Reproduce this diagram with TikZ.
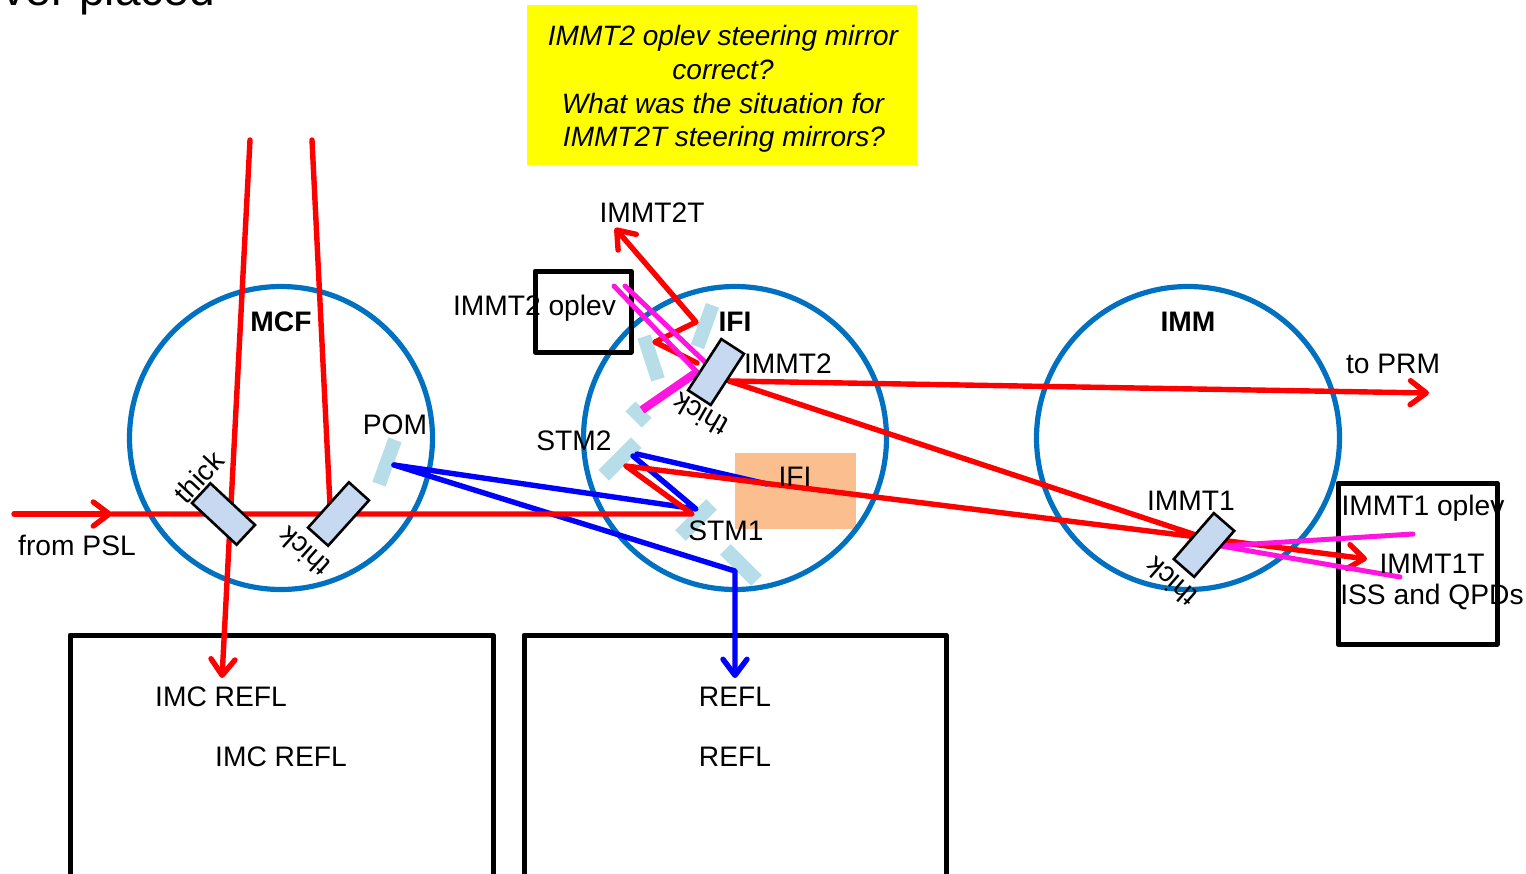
\documentclass[tikz,border=0pt]{standalone}
\usepackage{fontspec}
\setmainfont{Liberation Sans}
\usetikzlibrary{arrows.meta}
\definecolor{ringblue}{HTML}{0070C0}
\definecolor{mirrorblue}{HTML}{B7DDE8}
\definecolor{opticblue}{HTML}{C6D9F1}
\definecolor{ifiorange}{HTML}{FBBF8F}
\definecolor{noteyellow}{HTML}{FFFF00}
\definecolor{beamred}{HTML}{FF0000}
\definecolor{beamblue}{HTML}{0000FF}
\definecolor{beammag}{HTML}{FF14E0}
\tikzset{
  x=0.5pt,y=-0.5pt,
  every node/.style={font=\fontsize{14.1}{16}\selectfont,inner sep=0pt,outer sep=0pt,text=black},
  ring/.style={draw=ringblue,line width=2.6pt,circle,minimum size=151.5pt},
  mirrorbar/.style={fill=mirrorblue,draw=none,rectangle},
  optic/.style={fill=opticblue,draw=black,line width=1.3pt,rectangle,minimum width=30.5pt,minimum height=13.5pt},
  labelbox/.style={draw=black,line width=2.5pt,line join=round},
  redbeam/.style={draw=beamred,line width=2.7pt,line cap=round,line join=round},
  bluebeam/.style={draw=beamblue,line width=2.7pt,line cap=round,line join=round},
  magbeam/.style={draw=beammag,line width=2.5pt,line cap=round,line join=round},
  barb/.style={-{Straight Barb[length=8pt,width=12pt,line width=2.7pt,round]}},
  boldlabel/.style={font=\fontsize{14.1}{16}\selectfont\bfseries},
  notelabel/.style={font=\fontsize{14}{16.9}\selectfont\itshape,align=center},
}
\begin{document}
\begin{tikzpicture}
\useasboundingbox (0,0) rectangle (1526,873);
\clip (0,0) rectangle (1526,873);
% fixed points
\coordinate (pslstart) at (14,514);
\coordinate (pslarrow) at (112,514);
\coordinate (stmhit) at (692,514);
\coordinate (stmtwohit) at (626,466);
\coordinate (immtonehit) at (1205,538);
\coordinate (immtonethru) at (1367,559);
\coordinate (immtwoback) at (729,381);
\coordinate (prmtip) at (1429,393);
\coordinate (immtwofront) at (697,363);
\coordinate (foldlow) at (655,342);
\coordinate (foldhigh) at (696,322);
\coordinate (tttip) at (615,228);
\coordinate (mcfatop) at (250,140);
\coordinate (mcfabot) at (222,678);
\coordinate (mcfbtop) at (312,140);
\coordinate (mcfbbot) at (330,505);
\coordinate (pomhit) at (394,465);
\coordinate (bluestm) at (696,509);
\coordinate (bluestmb) at (633,456);
\coordinate (bluestmc) at (637,454);
\coordinate (blueend) at (767,484);
\coordinate (blueturn) at (735,571);
\coordinate (bluetip) at (735,678);
\coordinate (magthicka) at (642,410);
\coordinate (magthickb) at (697,372);
\coordinate (magthina) at (614,286);
\coordinate (magthinb) at (625,286);
\coordinate (magthinc) at (706,363);
\coordinate (magone) at (1221,546);
\coordinate (magonea) at (1413,534);
\coordinate (magoneb) at (1400,577);
% backgrounds
\fill[noteyellow] (527,5) rectangle (917,165);
\fill[ifiorange] (735,453) rectangle (856,529);
% rings
\node[ring] (mcf) at (281,438) {};
\node[ring] (ifi) at (735,438) {};
\node[ring] (imm) at (1188,438) {};
% label boxes
\draw[labelbox] (70,885) -- (70,635) -- (493,635) -- (493,885);
\draw[labelbox] (524,885) -- (524,635) -- (946,635) -- (946,885);
\draw[labelbox] (535,271) rectangle (631,352);
\draw[labelbox] (1338,483) rectangle (1497,644);
% steering mirrors
\node[mirrorbar,rotate=70,minimum width=23.5pt,minimum height=7pt] (pom) at (387,462) {};
\node[mirrorbar,rotate=70,minimum width=22pt,minimum height=7pt] (mia) at (705,326) {};
\node[mirrorbar,rotate=-72,minimum width=22.5pt,minimum height=7pt] (mib) at (651,358) {};
\node[mirrorbar,rotate=-45,minimum width=11.5pt,minimum height=7pt] (mic) at (638.5,414.5) {};
\node[mirrorbar,rotate=45,minimum width=23pt,minimum height=7.5pt] (stmtwo) at (620,459) {};
\node[mirrorbar,rotate=45,minimum width=22pt,minimum height=7.5pt] (stmone) at (696,520) {};
\node[mirrorbar,rotate=-45,minimum width=22pt,minimum height=7.5pt] (low) at (741,565) {};
% blue beams
\draw[bluebeam] (pomhit) -- (bluestm) -- (bluestmb);
\draw[bluebeam] (bluestmc) -- (blueend);
\draw[bluebeam,barb] (pomhit) -- (blueturn) -- (bluetip);
% red beams
\draw[redbeam,barb] (pslstart) -- (pslarrow);
\draw[redbeam] (pslarrow) -- (stmhit) -- (stmtwohit) -- (immtonehit) -- (immtwoback);
\draw[redbeam,barb] (immtonehit) -- (immtonethru);
\draw[redbeam,barb] (immtwoback) -- (prmtip);
\draw[redbeam,barb] (immtwofront) -- (foldlow) -- (foldhigh) -- (tttip);
\draw[redbeam,barb] (mcfatop) -- (mcfabot);
\draw[redbeam] (mcfbtop) -- (mcfbbot);
% magenta beams
\draw[magbeam,line width=4.2pt,line cap=butt] (magthicka) -- (magthickb);
\draw[magbeam] (magthina) -- (magthickb);
\draw[magbeam] (magthinb) -- (magthinc);
\draw[magbeam] (magonea) -- (magone) -- (magoneb);
% optics
\node[optic,rotate=-43] (opa) at (223.5,514) {};
\node[optic,rotate=48] (opb) at (338.5,514) {};
\node[optic,rotate=57] (opc) at (716,372) {};
\node[optic,rotate=49] (opd) at (1204,545) {};
% thick labels
\node[rotate=47] (ta) at (199,477) {thick};
\node[rotate=138] (tb) at (304,552) {thick};
\node[rotate=150] (tc) at (700,415) {thick};
\node[rotate=139] (td) at (1171,582) {thick};
% texts
\node[anchor=base east,font=\fontsize{23}{26}\selectfont] (top) at (215,5) {ver placed};
\node[notelabel] (note) at (723,89) {IMMT2 oplev steering mirror\\correct?\\What was the situation for\hspace{2pt}\\ \hspace{1pt}IMMT2T steering mirrors?};
\node (lttt) at (652,213) {IMMT2T};
\node (lopl) at (534.5,308) {IMMT2 oplev};
\node[boldlabel] (lmcf) at (281,322) {MCF};
\node[boldlabel] (lifi) at (735,322) {IFI};
\node[boldlabel] (limm) at (1188,322) {IMM};
\node (lim2) at (788,364) {IMMT2};
\node (lprm) at (1393,364) {to PRM};
\node (lpom) at (395,425) {POM};
\node (lst2) at (574,441) {STM2};
\node (lifr) at (795,477) {IFI};
\node (lst1) at (726,531) {STM1};
\node (lpsl) at (77,545) {from PSL};
\node (lim1) at (1191,501) {IMMT1};
\node (lo1) at (1423,508) {IMMT1 oplev};
\node (lt1) at (1432,564) {IMMT1T};
\node (liss) at (1432,597) {ISS and QPDs};
\node (lra) at (221,697) {IMC REFL};
\node (lrb) at (281,757) {IMC REFL};
\node (lrc) at (735,697) {REFL};
\node (lrd) at (735,757) {REFL};
\end{tikzpicture}
\end{document}
